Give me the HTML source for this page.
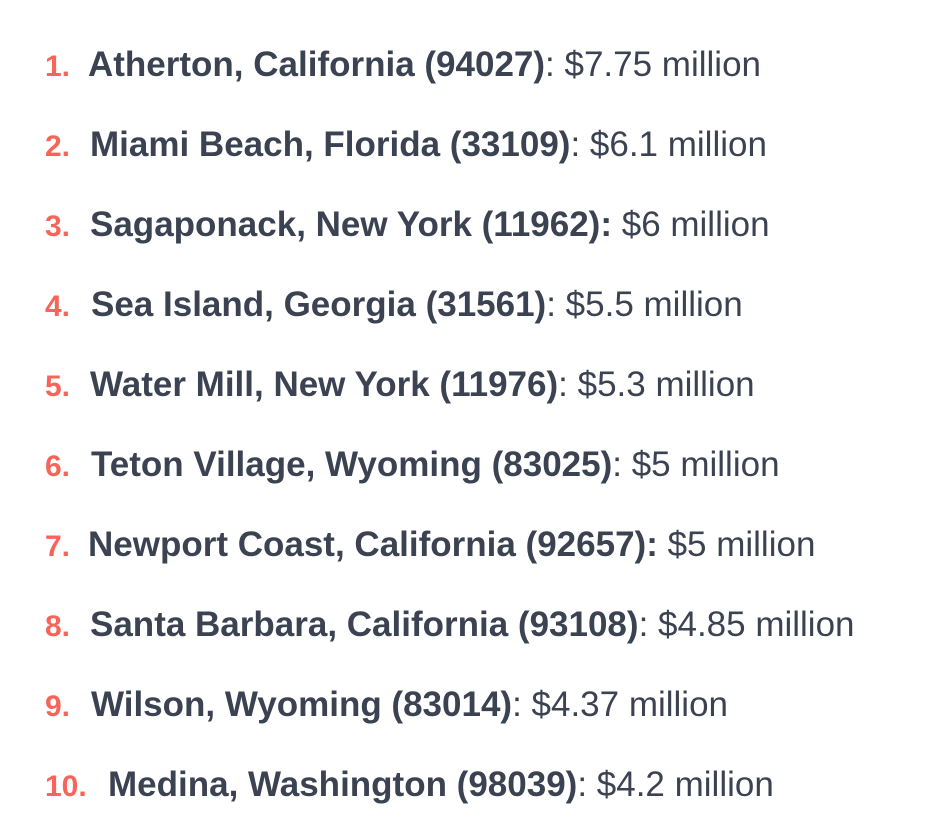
<!DOCTYPE html>
<html><head><meta charset="utf-8">
<style>
html,body{margin:0;padding:0;background:#fff;}
body{width:927px;height:829px;position:relative;overflow:hidden;font-family:"Liberation Sans",sans-serif;}
.item{position:absolute;left:0;height:40px;line-height:40px;color:#3b4352;white-space:nowrap;}
.num{position:absolute;left:45px;top:0;color:#f9645a;font-weight:bold;font-size:30px;}
.txt{position:absolute;top:-2px;font-size:35px;}
.txt b{font-weight:bold;}
</style></head>
<body>
<div class="item" style="top:47px"><span class="num">1.</span><span class="txt" style="left:88px"><b>Atherton, California (94027)</b>: $7.75 million</span></div>
<div class="item" style="top:127px"><span class="num">2.</span><span class="txt" style="left:90px"><b>Miami Beach, Florida (33109)</b>: $6.1 million</span></div>
<div class="item" style="top:207px"><span class="num">3.</span><span class="txt" style="left:90px"><b>Sagaponack, New York (11962):</b> $6 million</span></div>
<div class="item" style="top:287px"><span class="num">4.</span><span class="txt" style="left:91px"><b>Sea Island, Georgia (31561)</b>: $5.5 million</span></div>
<div class="item" style="top:367px"><span class="num">5.</span><span class="txt" style="left:90px"><b>Water Mill, New York (11976)</b>: $5.3 million</span></div>
<div class="item" style="top:447px"><span class="num">6.</span><span class="txt" style="left:91px"><b>Teton Village, Wyoming (83025)</b>: $5 million</span></div>
<div class="item" style="top:527px"><span class="num">7.</span><span class="txt" style="left:88px"><b>Newport Coast, California (92657):</b> $5 million</span></div>
<div class="item" style="top:607px"><span class="num">8.</span><span class="txt" style="left:90px"><b>Santa Barbara, California (93108)</b>: $4.85 million</span></div>
<div class="item" style="top:687px"><span class="num">9.</span><span class="txt" style="left:91px"><b>Wilson, Wyoming (83014)</b>: $4.37 million</span></div>
<div class="item" style="top:767px"><span class="num">10.</span><span class="txt" style="left:108px"><b>Medina, Washington (98039)</b>: $4.2 million</span></div>
</body></html>
